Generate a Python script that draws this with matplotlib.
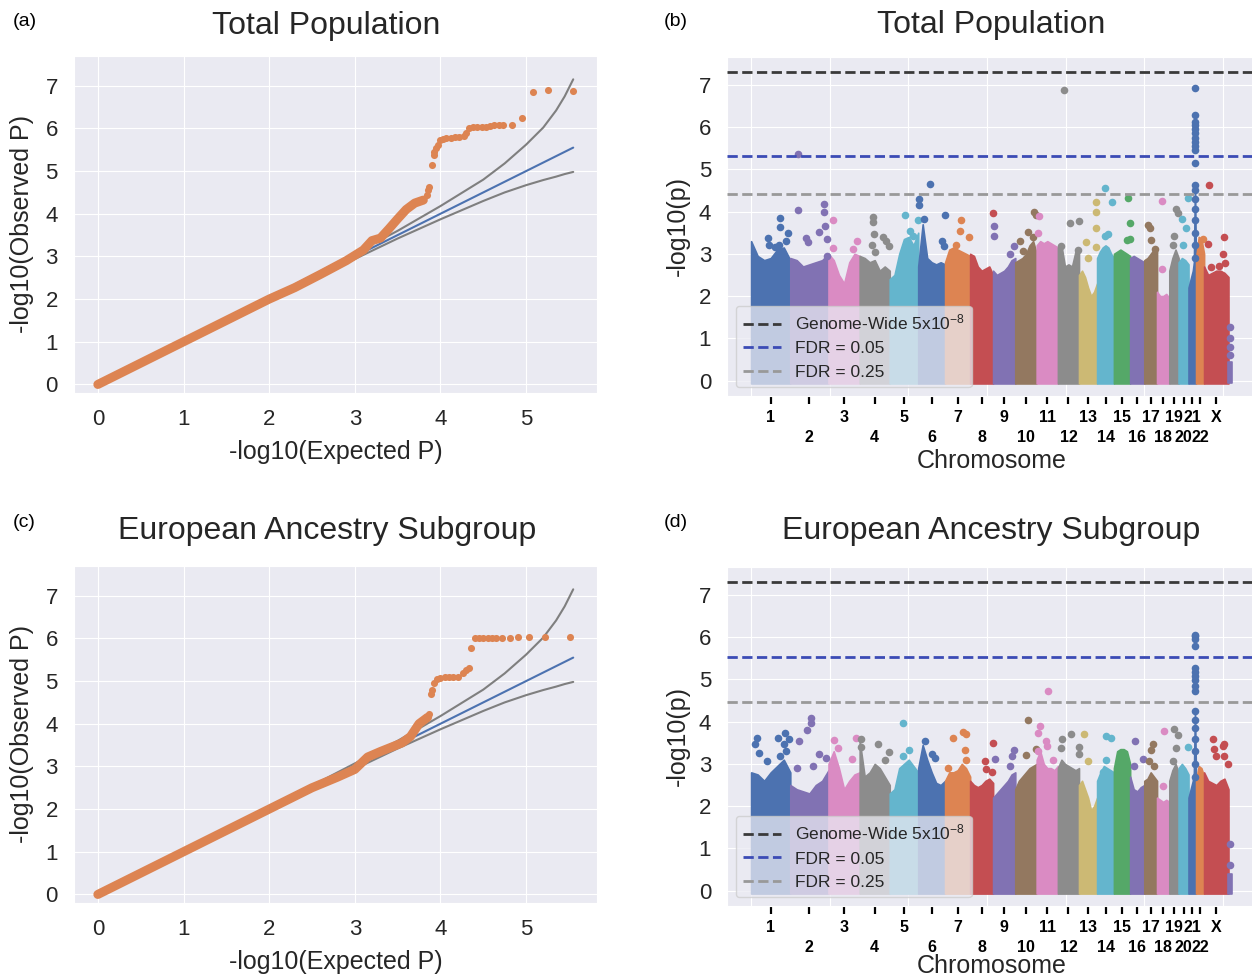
import numpy as np
import matplotlib
matplotlib.use('Agg')
import matplotlib.pyplot as plt
import seaborn as sns

sns.set_style('darkgrid')
plt.rcParams['font.family'] = ['Liberation Sans', 'DejaVu Sans']
plt.rcParams['mathtext.default'] = 'regular'

# ---------------- QQ data ----------------
# dense part of the orange points, drawn as a thick band
qq_a_x = [0, 0.5, 1.0, 1.5, 2.0, 2.3, 2.6, 2.9, 3.1, 3.2, 3.3, 3.4, 3.5, 3.6, 3.7, 3.8]
qq_a_y = [0, 0.5, 1.0, 1.5, 2.0, 2.27, 2.58, 2.9, 3.15, 3.37, 3.43, 3.65, 3.88, 4.1, 4.25, 4.32]
# sparse tail
qq_a_tx = [3.84, 3.86, 3.87, 3.90, 3.92, 3.93, 3.95, 3.97, 4.00, 4.03, 4.07, 4.12, 4.17,
           4.22, 4.27, 4.30, 4.33, 4.38, 4.43, 4.48, 4.53, 4.58, 4.63, 4.68, 4.73, 4.84,
           4.95, 5.08, 5.26, 5.55]
qq_a_ty = [4.45, 4.55, 4.62, 5.15, 5.38, 5.45, 5.55, 5.62, 5.72, 5.76, 5.78, 5.78, 5.80,
           5.80, 5.82, 5.90, 6.02, 6.04, 6.04, 6.04, 6.04, 6.05, 6.07, 6.07, 6.07, 6.07,
           6.25, 6.85, 6.90, 6.88]

qq_c_x = [0, 0.5, 1.0, 1.5, 2.0, 2.5, 2.8, 3.0, 3.15, 3.3, 3.55, 3.65, 3.75, 3.85]
qq_c_y = [0, 0.5, 1.0, 1.5, 2.0, 2.5, 2.75, 2.93, 3.22, 3.35, 3.55, 3.7, 4.0, 4.15]
qq_c_tx = [3.87, 3.89, 3.90, 3.93, 3.96, 4.00, 4.05, 4.10, 4.15, 4.20, 4.26, 4.30, 4.33,
           4.36, 4.40, 4.45, 4.50, 4.55, 4.60, 4.65, 4.72, 4.81, 4.90, 5.03, 5.22, 5.51]
qq_c_ty = [4.22, 4.70, 4.78, 4.95, 5.05, 5.08, 5.10, 5.10, 5.10, 5.10, 5.20, 5.27, 5.30,
           5.78, 6.00, 6.00, 6.00, 6.00, 6.00, 6.00, 6.00, 6.00, 6.03, 6.04, 6.03, 6.03]

# expected line and 95% band
diag_x = [0, 5.55]
ci_x = [0, 1.0, 2.0, 2.5, 3.0, 3.5, 4.0, 4.5, 4.75, 5.0, 5.2, 5.35, 5.45, 5.55]
ci_upper = [0, 1.02, 2.03, 2.55, 3.07, 3.6, 4.18, 4.8, 5.18, 5.62, 6.02, 6.42, 6.75, 7.15]
ci_lower = [0, 0.98, 1.97, 2.46, 2.94, 3.42, 3.87, 4.3, 4.5, 4.67, 4.79, 4.87, 4.93, 4.98]

# ---------------- Manhattan data ----------------
chrom_names = [str(i) for i in range(1, 23)] + ['X', 'Y']
chrom_len = [249, 243, 198, 191, 181, 171, 159, 146, 141, 136, 135, 134, 115, 107, 103,
             90, 81, 78, 59, 63, 48, 51, 155, 20]  # Mb
deep = {'blue': '#4C72B0', 'orange': '#DD8452', 'green': '#55A868', 'red': '#C44E52',
        'purple': '#8172B3', 'brown': '#937860', 'pink': '#DA8BC3', 'gray': '#8C8C8C',
        'olive': '#CCB974', 'cyan': '#64B5CD'}
chrom_colors = ['blue', 'purple', 'pink', 'gray', 'cyan', 'blue', 'orange', 'red', 'purple',
                'brown', 'pink', 'gray', 'olive', 'cyan', 'green', 'purple', 'brown', 'pink',
                'gray', 'cyan', 'blue', 'orange', 'red', 'purple']

# upper edge of the dense cloud, evenly spaced along each chromosome
env_b = [
    [3.3, 2.95, 2.85, 2.9, 3.1, 3.15, 2.85],
    [2.9, 2.85, 2.7, 2.75, 2.8, 2.85, 3.0],
    [3.0, 2.85, 2.5, 2.3, 2.8, 3.0, 2.95],
    [2.95, 2.9, 2.8, 2.85, 2.6, 2.7, 2.6],
    [2.4, 2.5, 3.0, 3.35, 3.4, 3.2, 3.5],
    [2.7, 3.7, 2.9, 2.8, 2.75, 2.8, 2.75],
    [2.8, 3.1, 3.15, 3.1, 3.05, 3.0, 2.95],
    [3.0, 2.95, 2.7, 2.6, 2.65, 2.7, 2.5],
    [2.6, 2.5, 2.55, 2.6, 2.7, 2.85, 2.9],
    [2.8, 2.85, 2.9, 3.0, 3.2, 3.3, 3.0],
    [3.2, 3.3, 3.25, 3.3, 3.25, 3.2, 3.15],
    [3.15, 3.2, 2.7, 2.75, 2.7, 3.05, 3.1],
    [2.5, 2.6, 2.45, 2.2, 2.0, 2.1, 2.3],
    [2.9, 3.05, 3.15, 3.2, 3.15, 3.0, 2.9],
    [3.0, 3.05, 3.1, 3.05, 3.0, 2.95],
    [2.9, 2.95, 2.9, 2.85, 2.8],
    [2.85, 2.9, 3.0, 3.1, 3.05],
    [2.1, 2.0, 2.0, 2.05, 1.95],
    [2.6, 2.9, 3.1, 2.9],
    [2.8, 2.9, 2.85, 2.75],
    [2.2, 2.3, 2.4, 2.5, 2.6, 2.8, 4.65, 2.6],
    [2.9, 3.4, 3.35, 3.0],
    [2.7, 2.5, 2.55, 2.6, 2.6, 2.55, 2.45],
    [0.45, 0.45],
]
# single points above the cloud: (chromosome, fraction along it, -log10 p)
hits_b = [
    ('1', 0.43, 3.37), ('1', 0.45, 3.2), ('1', 0.62, 3.16), ('1', 0.75, 3.84),
    ('1', 0.75, 3.63), ('1', 0.93, 3.5), ('1', 0.9, 3.31), ('1', 0.7, 3.2),
    ('2', 0.2, 5.37), ('2', 0.2, 4.04), ('2', 0.42, 3.37), ('2', 0.46, 3.28),
    ('2', 0.74, 3.51), ('2', 0.87, 4.18), ('2', 0.87, 3.99), ('2', 0.91, 3.65),
    ('2', 0.97, 3.35), ('2', 0.97, 2.95),
    ('3', 0.14, 3.79), ('3', 0.14, 3.13), ('3', 0.78, 3.12), ('3', 0.9, 3.3),
    ('4', 0.45, 3.87), ('4', 0.45, 3.75), ('4', 0.48, 3.47), ('4', 0.4, 3.2),
    ('4', 0.5, 3.04), ('4', 0.78, 3.39), ('4', 0.87, 3.31), ('4', 0.98, 3.18),
    ('5', 0.53, 3.92), ('5', 0.71, 3.55), ('5', 0.82, 3.43), ('5', 0.98, 3.79),
    ('6', 0.03, 4.3), ('6', 0.03, 4.15), ('6', 0.22, 3.83), ('6', 0.43, 4.66),
    ('6', 0.98, 3.92), ('6', 0.87, 3.3), ('6', 0.97, 3.18),
    ('7', 0.65, 3.79), ('7', 0.58, 3.55), ('7', 0.45, 3.2), ('7', 0.97, 3.39),
    ('8', 0.99, 3.97),
    ('9', 0.05, 3.67), ('9', 0.05, 3.42), ('9', 0.75, 3.0), ('9', 0.95, 3.18),
    ('10', 0.22, 3.31), ('10', 0.37, 3.06), ('10', 0.6, 3.51), ('10', 0.85, 3.39),
    ('10', 0.88, 3.99), ('10', 0.98, 3.93),
    ('11', 0.1, 3.9), ('11', 0.08, 3.5),
    ('12', 0.27, 6.88), ('12', 0.55, 3.72), ('12', 0.98, 3.78), ('12', 0.15, 3.18),
    ('12', 0.95, 3.1),
    ('13', 0.4, 3.29), ('13', 0.5, 2.9), ('13', 0.95, 4.22), ('13', 0.95, 3.99),
    ('13', 0.95, 3.6), ('13', 0.95, 3.16),
    ('14', 0.45, 4.55), ('14', 0.88, 4.22), ('14', 0.65, 3.47), ('14', 0.45, 3.42),
    ('15', 0.85, 4.33), ('15', 0.99, 3.72), ('15', 0.97, 3.36), ('15', 0.8, 3.33),
    ('17', 0.3, 3.68), ('17', 0.45, 3.6), ('17', 0.5, 3.32), ('17', 0.85, 3.12),
    ('18', 0.4, 4.26), ('18', 0.38, 2.64),
    ('19', 0.7, 4.07), ('19', 0.9, 3.97), ('19', 0.55, 3.43), ('19', 0.4, 3.2),
    ('20', 0.95, 4.32), ('20', 0.7, 3.6), ('20', 0.35, 3.82), ('20', 0.45, 3.2),
    ('21', 0.86, 2.9), ('21', 0.86, 3.2), ('21', 0.86, 3.5), ('21', 0.86, 3.8),
    ('21', 0.86, 4.05), ('21', 0.86, 4.3), ('21', 0.86, 4.5), ('21', 0.86, 4.64),
    ('21', 0.86, 5.15), ('21', 0.86, 5.45), ('21', 0.86, 5.55), ('21', 0.86, 5.65),
    ('21', 0.86, 5.75), ('21', 0.86, 5.85), ('21', 0.86, 5.95), ('21', 0.86, 6.05),
    ('21', 0.86, 6.12), ('21', 0.86, 6.29), ('21', 0.86, 6.92),
    ('22', 0.9, 3.35),
    ('X', 0.2, 4.63), ('X', 0.8, 3.39), ('X', 0.78, 3.0), ('X', 0.15, 3.23),
    ('X', 0.3, 2.68), ('X', 0.6, 2.72), ('X', 0.85, 2.78),
    ('Y', 0.5, 0.6), ('Y', 0.5, 0.8), ('Y', 0.5, 1.0), ('Y', 0.5, 1.26),
]
thr_b = [7.30, 5.31, 4.41]  # genome-wide, FDR 0.05, FDR 0.25

env_d = [
    [2.8, 2.75, 2.6, 2.8, 2.95, 3.1, 2.8],
    [2.5, 2.4, 2.35, 2.3, 2.5, 2.6, 2.85],
    [3.0, 3.3, 2.9, 2.4, 2.6, 2.75, 2.8],
    [3.55, 2.7, 2.8, 3.0, 2.9, 2.7, 2.5],
    [2.3, 2.4, 2.9, 3.0, 3.1, 2.95, 2.8],
    [2.9, 3.45, 3.1, 2.8, 2.55, 2.5, 2.6],
    [2.6, 2.8, 2.8, 2.85, 3.0, 2.9, 2.7],
    [2.6, 2.5, 2.45, 2.5, 2.6, 2.65, 2.55],
    [2.2, 2.3, 2.4, 2.5, 2.6, 2.75, 2.8],
    [2.4, 2.6, 2.7, 2.8, 2.9, 2.95, 3.0],
    [3.1, 3.3, 3.0, 2.9, 2.9, 2.85, 2.95],
    [2.9, 3.1, 3.0, 2.95, 2.9, 2.85, 2.9],
    [2.5, 2.6, 2.4, 2.2, 1.9, 2.0, 2.2],
    [2.6, 2.8, 2.95, 2.9, 2.85, 2.8],
    [2.9, 3.3, 3.35, 3.35, 3.3, 3.0],
    [2.7, 2.4, 2.35, 2.45, 2.5],
    [2.6, 2.65, 2.8, 2.7, 2.6],
    [2.2, 2.15, 2.1, 2.15, 2.1],
    [2.6, 2.85, 3.0, 2.8],
    [2.9, 3.0, 2.9, 2.75],
    [2.2, 2.3, 2.4, 2.5, 2.6, 2.8, 4.25, 2.6],
    [2.6, 2.95, 2.9, 2.7],
    [2.8, 2.6, 2.55, 2.5, 2.6, 2.65, 2.4],
    [0.4, 0.4],
]
hits_d = [
    ('1', 0.15, 3.62), ('1', 0.09, 3.46), ('1', 0.2, 3.26), ('1', 0.4, 3.07),
    ('1', 0.68, 3.62), ('1', 0.87, 3.74), ('1', 0.83, 3.46), ('1', 0.96, 3.58),
    ('1', 0.75, 3.19), ('1', 0.9, 3.3),
    ('2', 0.22, 3.54), ('2', 0.43, 3.8), ('2', 0.54, 4.09), ('2', 0.54, 3.97),
    ('2', 0.74, 3.23), ('2', 0.93, 3.15), ('2', 0.17, 2.91), ('2', 0.6, 2.95),
    ('3', 0.18, 3.56), ('3', 0.32, 3.38), ('3', 0.88, 3.62), ('3', 0.74, 3.11),
    ('4', 0.06, 3.58), ('4', 0.06, 3.4), ('4', 0.61, 3.48), ('4', 0.97, 3.28),
    ('4', 0.83, 3.1),
    ('5', 0.47, 3.96), ('5', 0.68, 3.33), ('5', 0.47, 3.19),
    ('6', 0.25, 3.54), ('6', 0.5, 3.23), ('6', 0.62, 3.15),
    ('7', 0.3, 3.61), ('7', 0.72, 3.76), ('7', 0.85, 3.7), ('7', 0.79, 3.34),
    ('7', 0.85, 3.1), ('7', 0.12, 2.9),
    ('8', 0.65, 3.08), ('8', 0.7, 2.87), ('8', 0.95, 2.8), ('8', 0.99, 3.5),
    ('9', 0.1, 3.12), ('9', 0.75, 2.95), ('9', 0.95, 3.33), ('9', 0.85, 3.18),
    ('10', 0.6, 4.03), ('10', 0.52, 3.21), ('10', 0.99, 3.36),
    ('11', 0.53, 4.73), ('11', 0.14, 3.89), ('11', 0.07, 3.74), ('11', 0.45, 3.54),
    ('11', 0.5, 3.42), ('11', 0.07, 3.3), ('11', 0.77, 3.1),
    ('12', 0.63, 3.7), ('12', 0.19, 3.58), ('12', 0.16, 3.38), ('12', 0.98, 3.41),
    ('12', 0.98, 3.23),
    ('13', 0.28, 3.7), ('13', 0.5, 3.07),
    ('14', 0.55, 3.67), ('14', 0.8, 3.62), ('14', 0.55, 3.1), ('14', 0.35, 2.8),
    ('16', 0.35, 3.54), ('16', 0.3, 2.95), ('16', 0.9, 3.11),
    ('17', 0.65, 3.46), ('17', 0.55, 3.34), ('17', 0.4, 3.07), ('17', 0.78, 2.95),
    ('18', 0.55, 3.77), ('18', 0.45, 2.48),
    ('19', 0.48, 3.83), ('19', 0.95, 3.68), ('19', 0.7, 3.38), ('19', 0.35, 3.07),
    ('20', 0.95, 3.4),
    ('21', 0.86, 2.7), ('21', 0.86, 3.0), ('21', 0.86, 3.3), ('21', 0.86, 3.6),
    ('21', 0.86, 3.85), ('21', 0.86, 4.05), ('21', 0.86, 4.25), ('21', 0.86, 4.72),
    ('21', 0.86, 4.85), ('21', 0.86, 4.98), ('21', 0.86, 5.08), ('21', 0.86, 5.18),
    ('21', 0.86, 5.28), ('21', 0.86, 5.8), ('21', 0.86, 5.95), ('21', 0.86, 6.02),
    ('21', 0.86, 6.06),
    ('X', 0.35, 3.58), ('X', 0.4, 3.36), ('X', 0.77, 3.42), ('X', 0.83, 3.46),
    ('X', 0.5, 3.18), ('X', 0.8, 3.18), ('X', 0.97, 3.0),
    ('Y', 0.5, 0.6), ('Y', 0.5, 1.1),
]
thr_d = [7.30, 5.53, 4.46]

thr_labels = ['Genome-Wide 5x10$^{-8}$', 'FDR = 0.05', 'FDR = 0.25']
thr_colors = ['#3a3a3a', '#3b4bb5', '#999999']

TXT = '#262626'
fig = plt.figure(figsize=(12.52, 9.8), dpi=100)


def qq_panel(rect, title, pad, dx, dy, tx, ty):
    ax = fig.add_axes(rect)
    ax.plot(diag_x, diag_x, color='#4C72B0', lw=1.5, zorder=2)
    ax.plot(ci_x, ci_upper, color='#7f7f7f', lw=1.5, zorder=2)
    ax.plot(ci_x, ci_lower, color='#7f7f7f', lw=1.5, zorder=2)
    ax.plot(dx, dy, color='#DD8452', lw=6.5, solid_capstyle='round', zorder=3)
    ax.scatter(tx, ty, s=26, color='#DD8452', linewidths=0, zorder=3)
    ax.set_xlim(-0.28, 5.83)
    ax.set_ylim(-0.2, 7.7)
    ax.set_xticks(range(6))
    ax.set_yticks(range(8))
    ax.tick_params(labelsize=16, colors=TXT, pad=8)
    ax.set_xlabel('-log10(Expected P)', fontsize=18, color=TXT, labelpad=7)
    ax.set_ylabel('-log10(Observed P)', fontsize=18, color=TXT, labelpad=8)
    ax.set_title(title, fontsize=23, color=TXT, pad=pad, x=0.483)
    return ax


def manhattan_panel(rect, title, pad, env, hits, thr, xlab_y):
    ax = fig.add_axes(rect)
    starts = np.concatenate([[0], np.cumsum(chrom_len)[:-1]])
    for i, name in enumerate(chrom_names):
        c = deep[chrom_colors[i]]
        xs = starts[i] + np.linspace(0, 1, len(env[i])) * chrom_len[i]
        ax.fill_between(xs, -0.07, env[i], color=c, edgecolor=c, lw=1.2, zorder=2)
    for name, frac, val in hits:
        i = chrom_names.index(name)
        ax.scatter(starts[i] + frac * chrom_len[i], val, s=30,
                   color=deep[chrom_colors[i]], linewidths=0, zorder=3)
    handles = []
    for y, lab, c in zip(thr, thr_labels, thr_colors):
        h = ax.axhline(y, color=c, ls='--', lw=2, label=lab, zorder=4)
        handles.append(h)
    ax.set_xlim(-153, 3209)
    ax.set_ylim(-0.365, 7.665)
    ax.set_yticks(range(8))
    # regular grid positions, labels hidden
    ax.set_xticks(np.arange(0, 3001, 500))
    ax.set_xticklabels([])
    # chromosome marks with labels in two staggered rows
    centers = starts + np.array(chrom_len) / 2
    ax.set_xticks(centers[:-1], minor=True)
    ax.tick_params(axis='x', which='major', length=0)
    ax.tick_params(axis='x', which='minor', bottom=True, length=5.5, width=1.6,
                   color='black', direction='out')
    trans = ax.get_xaxis_transform()
    for i, name in enumerate(chrom_names[:-1]):
        yrow = -0.063 if i % 2 == 0 else -0.122
        ax.text(centers[i], yrow, name, transform=trans, ha='center', va='center',
                fontsize=11.5, fontweight='bold', color='black')
    ax.tick_params(axis='y', labelsize=16, colors=TXT, pad=8)
    ax.set_xlabel('Chromosome', fontsize=18, color=TXT, va='top')
    ax.xaxis.set_label_coords(0.5, xlab_y)
    ax.set_ylabel('-log10(p)', fontsize=18, color=TXT, labelpad=6)
    ax.set_title(title, fontsize=23, color=TXT, pad=pad)
    leg = ax.legend(handles=handles, loc='lower left', fontsize=12.5, framealpha=0.75,
                    facecolor='#EAEAF2', edgecolor='#cccccc', handlelength=2.2)
    leg.set_zorder(5)
    for t in leg.get_texts():
        t.set_color(TXT)
    return ax


qq_panel([0.059, 0.599, 0.418, 0.344], 'Total Population', 16, qq_a_x, qq_a_y, qq_a_tx, qq_a_ty)
qq_panel([0.059, 0.0786, 0.418, 0.344], 'European Ancestry Subgroup', 19, qq_c_x, qq_c_y, qq_c_tx, qq_c_ty)
manhattan_panel([0.5807, 0.596, 0.4225, 0.346], 'Total Population', 17, env_b, hits_b, thr_b, -0.158)
manhattan_panel([0.5807, 0.0755, 0.4225, 0.346], 'European Ancestry Subgroup', 20, env_d, hits_d, thr_d, -0.143)

for lab, x, y in [('(a)', 0.010, 0.978), ('(b)', 0.530, 0.978),
                  ('(c)', 0.010, 0.467), ('(d)', 0.530, 0.467)]:
    fig.text(x, y, lab, fontsize=14, color='black', va='center')

fig.savefig('out.png', dpi=100)
